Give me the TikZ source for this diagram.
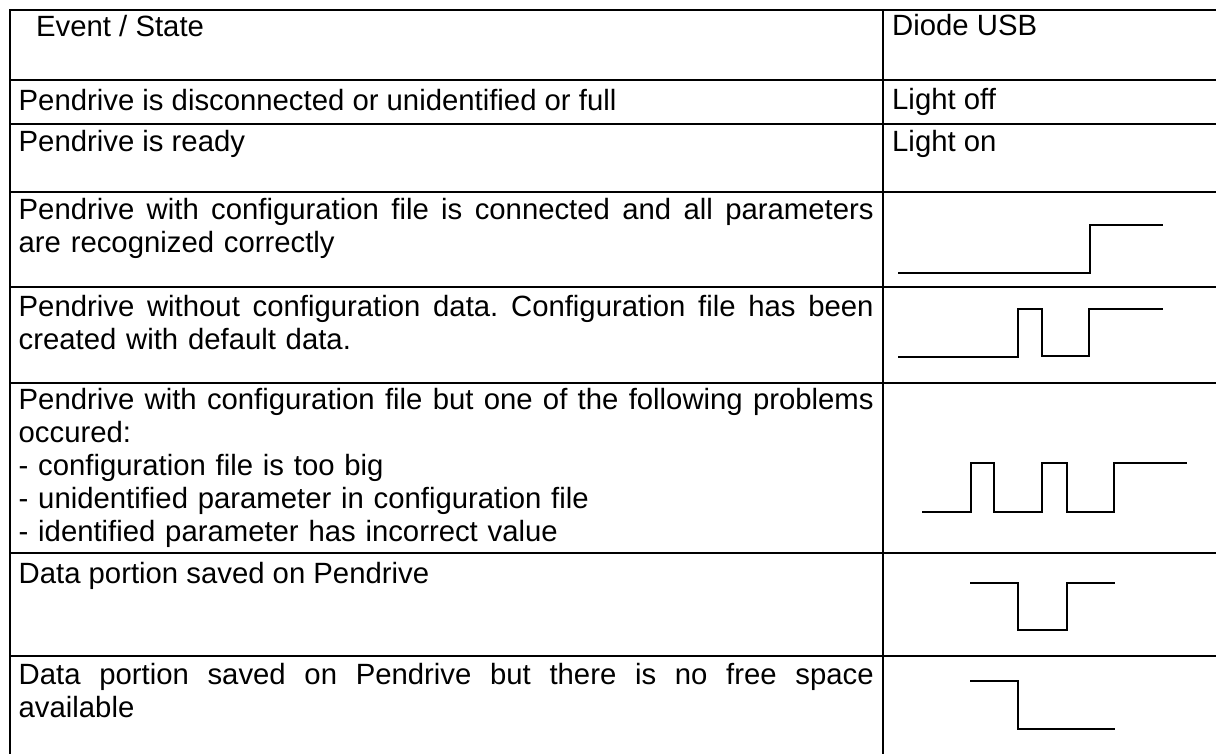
\documentclass[tikz,border=0pt]{standalone}
\usepackage{fontspec}
\setmainfont{Liberation Sans}
\newcommand\jline[1]{\hbox to 855pt{\spaceskip=0.278em plus 1fil\relax\xspaceskip=\spaceskip #1}}
\begin{document}
\begin{tikzpicture}[x=1pt,y=-1pt,
  gridline/.style={line width=2.4pt,line cap=rect},
  wave/.style={line width=1.7pt,line join=miter},
  txt/.style={anchor=base west,inner sep=0pt,font=\fontsize{29.3}{33}\selectfont},
  para/.style={txt,text width=855pt,align=left}]
\useasboundingbox (0,0) rectangle (1216,753);
% table grid
\draw[gridline] (10,753) -- (10,10) -- (1216,10);
\draw[gridline] (883,10) -- (883,753);
\foreach \yy in {80,124,192,287,383,553,656}
  \draw[gridline] (10,\yy) -- (1216,\yy);
% header
\node[txt] (h1) at (36,36) {Event / State};
\node[txt] (h2) at (892,35) {Diode USB};
% row 1
\node[txt] (r1a) at (18.5,110) {Pendrive is disconnected or unidentified or full};
\node[txt] (r1b) at (892,109) {Light off};
% row 2
\node[txt] (r2a) at (18.5,151) {Pendrive is ready};
\node[txt] (r2b) at (892,151) {Light on};
% row 3
\node[para] (r3a) at (18.5,219) {\jline{Pendrive with configuration file is connected and all parameters}\\are recognized correctly};
\draw[wave] (898,273) -- (1090,273) -- (1090,225) -- (1163,225);
% row 4
\node[para] (r4a) at (18.5,316) {\jline{Pendrive without configuration data. Configuration file has been}\\created with default data.};
\draw[wave] (898,357) -- (1018,357) -- (1018,309) -- (1042,309) -- (1042,356) -- (1089,356) -- (1089,309) -- (1163,309);
% row 5
\node[para] (r5a) at (18.5,409) {\jline{Pendrive with configuration file but one of the following problems}\\occured:\\- configuration file is too big\\- unidentified parameter in configuration file\\- identified parameter has incorrect value};
\draw[wave] (922,512) -- (971,512) -- (971,463) -- (994,463) -- (994,512) -- (1042,512) -- (1042,463) -- (1067,463) -- (1067,512) -- (1114,512) -- (1114,463) -- (1187,463);
% row 6
\node[txt] (r6a) at (18.5,583) {Data portion saved on Pendrive};
\draw[wave] (970,583) -- (1018,583) -- (1018,630) -- (1067,630) -- (1067,583) -- (1115,583);
% row 7
\node[para] (r7a) at (18.5,684) {\jline{Data portion saved on Pendrive but there is no free space}\\available};
\draw[wave] (970,681) -- (1018,681) -- (1018,729) -- (1115,729);
\end{tikzpicture}
\end{document}
